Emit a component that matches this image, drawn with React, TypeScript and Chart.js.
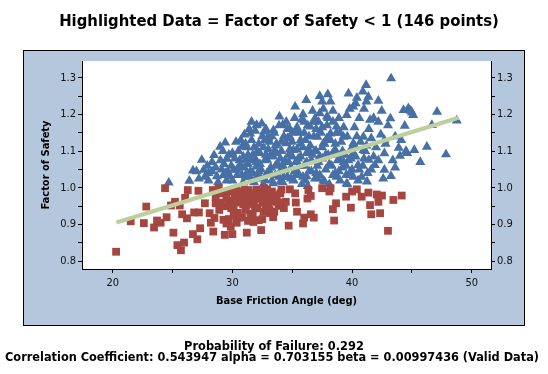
import React, { useEffect, useRef } from "react";
import { Chart, registerables } from "chart.js";

Chart.register(...registerables);

const TITLE = "Highlighted Data = Factor of Safety < 1 (146 points)";
const FOOTER_1 = "Probability of Failure: 0.292";
const FOOTER_2 =
  "Correlation Coefficient: 0.543947 alpha = 0.703155 beta = 0.00997436 (Valid Data)";
const X_TITLE = "Base Friction Angle (deg)";
const Y_TITLE = "Factor of Safety";

const ALPHA = 0.703155;
const BETA = 0.00997436;
const FIT_RANGE = [20.3, 48.9];

const X_MIN = 17.43;
const X_MAX = 51.61;
const Y_MIN = 0.779;
const Y_MAX = 1.3455;

// Factor of Safety >= 1 (angle, FoS)
const SAFE_POINTS: [number, number][] = [
  [24.68, 1.014], [26.4, 1.019], [26.7, 1.047], [27.44, 1.076], [27.6, 1.049], [28.47, 1.089],
  [28.97, 1.112], [29.4, 1.123], [29.53, 1.079], [28.0, 1.04], [28.7, 1.031], [29.25, 1.035],
  [29.8, 1.031], [30.36, 1.049], [30.8, 1.112], [31.14, 1.076], [31.48, 1.148], [31.6, 1.18],
  [32.03, 1.171], [32.45, 1.175], [32.65, 1.153], [33.0, 1.139], [33.43, 1.157], [33.93, 1.194],
  [34.2, 1.171], [35.24, 1.221], [36.17, 1.239], [37.5, 1.235], [37.97, 1.255], [39.7, 1.257],
  [41.17, 1.28], [40.9, 1.262], [41.36, 1.248], [42.2, 1.237], [42.48, 1.21], [43.26, 1.298],
  [43.2, 1.189], [44.3, 1.212], [44.7, 1.217], [45.1, 1.198], [45.2, 1.103], [45.7, 1.07],
  [46.25, 1.112], [46.67, 1.171], [47.1, 1.207], [47.85, 1.091], [48.75, 1.183], [44.4, 1.169],
  [43.9, 1.109], [44.0, 1.087], [43.6, 1.055], [43.25, 1.032], [42.7, 1.049], [42.7, 1.094],
  [41.9, 1.062], [41.4, 1.076], [41.8, 1.085], [40.95, 1.103], [40.1, 1.121], [39.55, 1.198],
  [39.28, 1.139], [40.1, 1.221], [40.3, 1.23], [41.5, 1.185], [42.2, 1.18], [42.7, 1.13],
  [40.95, 1.139], [39.55, 1.012], [40.1, 1.03], [40.5, 1.062], [41.25, 1.017], [38.7, 1.03],
  [39.0, 1.076], [38.6, 1.103], [37.9, 1.194], [38.4, 1.18], [37.3, 1.203], [36.9, 1.189],
  [36.5, 1.167], [35.8, 1.185], [35.4, 1.157], [34.8, 1.139], [37.1, 1.026], [37.7, 1.017],
  [36.2, 1.031], [35.1, 1.021], [34.0, 1.017], [33.4, 1.012], [32.74, 1.021], [31.6, 1.021],
  [31.2, 1.04], [32.0, 1.058], [32.9, 1.076], [33.7, 1.094], [34.5, 1.121], [35.1, 1.103],
  [35.7, 1.13], [36.4, 1.103], [37.1, 1.139], [37.6, 1.121], [38.2, 1.148], [38.7, 1.167],
  [29.1, 1.05], [29.3, 1.065], [29.6, 1.045], [29.9, 1.06], [30.0, 1.02], [30.2, 1.08],
  [30.4, 1.035], [30.5, 1.1], [30.7, 1.06], [30.9, 1.015], [30.9, 1.085], [30.3, 1.125],
  [29.7, 1.09], [28.6, 1.055], [28.3, 1.07], [28.8, 1.015], [27.9, 1.06], [27.2, 1.025],
  [27.0, 1.045], [31.1, 1.03], [31.2, 1.11], [31.3, 1.065], [31.5, 1.045], [31.6, 1.13],
  [31.7, 1.09], [31.8, 1.015], [31.9, 1.155], [32.0, 1.07], [32.1, 1.035], [32.2, 1.12],
  [32.3, 1.095], [32.4, 1.05], [32.5, 1.14], [32.6, 1.01], [32.7, 1.075], [32.8, 1.16],
  [32.9, 1.04], [33.0, 1.105], [33.1, 1.125], [33.2, 1.055], [33.3, 1.02], [33.4, 1.085],
  [33.5, 1.15], [33.6, 1.035], [33.7, 1.12], [33.8, 1.065], [33.9, 1.17], [31.4, 1.16],
  [32.0, 1.17], [31.0, 1.145], [34.0, 1.045], [34.1, 1.1], [34.2, 1.015], [34.3, 1.14],
  [34.4, 1.075], [34.5, 1.18], [34.6, 1.03], [34.7, 1.09], [34.8, 1.16], [34.9, 1.055],
  [35.0, 1.125], [35.1, 1.02], [35.2, 1.19], [35.3, 1.07], [35.4, 1.105], [35.5, 1.04],
  [35.6, 1.15], [35.7, 1.085], [35.8, 1.01], [35.9, 1.2], [36.0, 1.06], [36.1, 1.13],
  [36.2, 1.095], [36.3, 1.17], [36.4, 1.045], [36.5, 1.115], [36.6, 1.075], [36.7, 1.21],
  [36.8, 1.14], [36.9, 1.025], [34.2, 1.06], [35.0, 1.085], [35.7, 1.12], [36.3, 1.005],
  [37.0, 1.1], [37.1, 1.06], [37.2, 1.18], [37.3, 1.035], [37.4, 1.15], [37.5, 1.08],
  [37.6, 1.215], [37.7, 1.12], [37.8, 1.05], [37.9, 1.17], [38.0, 1.09], [38.1, 1.01],
  [38.2, 1.13], [38.3, 1.06], [38.4, 1.21], [38.5, 1.1], [38.6, 1.04], [38.7, 1.15],
  [38.8, 1.075], [38.9, 1.19], [39.0, 1.02], [39.1, 1.125], [39.2, 1.055], [39.3, 1.165],
  [39.4, 1.09], [39.5, 1.035], [39.6, 1.14], [39.7, 1.075], [39.8, 1.215], [39.9, 1.105],
  [37.3, 1.25], [38.2, 1.235], [40.0, 1.05], [40.2, 1.165], [40.3, 1.085], [40.5, 1.02],
  [40.6, 1.19], [40.7, 1.125], [40.9, 1.06], [41.0, 1.215], [41.1, 1.1], [41.3, 1.04],
  [41.4, 1.16], [41.6, 1.135], [41.8, 1.19], [42.0, 1.11], [42.2, 1.075], [42.4, 1.145],
  [41.2, 1.235], [40.4, 1.245], [42.8, 1.12], [43.0, 1.17], [43.4, 1.075], [43.6, 1.14],
  [44.1, 1.13], [44.5, 1.1], [44.9, 1.21], [45.0, 1.205], [42.6, 1.025], [44.6, 1.095],
  [30.1, 1.05], [30.6, 1.075], [31.0, 1.055], [31.3, 1.09], [31.7, 1.04], [32.1, 1.1],
  [32.4, 1.025], [32.8, 1.09], [33.1, 1.045], [33.5, 1.1], [33.9, 1.03], [34.1, 1.125],
  [34.4, 1.05], [34.8, 1.105], [35.2, 1.045], [35.5, 1.08], [35.9, 1.03], [36.2, 1.07],
  [36.6, 1.045], [36.9, 1.1], [37.3, 1.085], [37.6, 1.02], [37.9, 1.135], [38.3, 1.09],
  [38.6, 1.12], [38.9, 1.045], [39.3, 1.07], [39.6, 1.01], [39.9, 1.08], [40.2, 1.115],
  [40.6, 1.05], [41.0, 1.08], [33.0, 1.135], [34.6, 1.135], [36.0, 1.15], [37.5, 1.165],
  [35.4, 1.165], [32.3, 1.065], [31.5, 1.075], [30.8, 1.035], [29.5, 1.02], [28.0, 1.02],
  [36.8, 1.18], [38.0, 1.19], [34.9, 1.025], [33.6, 1.06], [32.6, 1.11], [37.0, 1.04],
  [29.0, 1.075], [29.4, 1.04], [30.0, 1.095], [30.5, 1.055], [31.1, 1.12], [31.4, 1.03],
  [31.9, 1.08], [32.2, 1.045], [32.7, 1.13], [33.2, 1.09], [33.6, 1.115], [34.0, 1.08],
  [34.3, 1.03], [34.7, 1.07], [35.0, 1.15], [35.3, 1.035], [35.6, 1.06], [35.9, 1.11],
  [36.1, 1.02], [36.4, 1.14], [36.7, 1.09], [37.0, 1.16], [37.2, 1.07], [37.5, 1.11],
  [37.8, 1.09], [38.1, 1.065], [38.4, 1.035], [38.7, 1.09], [39.0, 1.15], [39.2, 1.1],
  [39.5, 1.06], [39.8, 1.04], [40.1, 1.095], [40.4, 1.14], [40.8, 1.03], [41.2, 1.115],
  [41.6, 1.05], [36.0, 1.18], [34.6, 1.16], [33.3, 1.14], [30.7, 1.13], [31.8, 1.11],
  [29.2, 1.1], [28.3, 1.045], [27.7, 1.03],
];

// Factor of Safety < 1 (angle, FoS)
const FAIL_POINTS: [number, number][] = [
  [20.28, 0.826], [21.5, 0.909], [22.6, 0.904], [22.8, 0.949], [23.45, 0.892], [23.7, 0.911],
  [24.0, 0.905], [24.37, 0.999], [24.5, 0.92], [24.87, 0.952], [25.07, 0.878], [25.2, 0.962],
  [25.4, 0.844], [25.7, 0.83], [25.96, 0.851], [25.8, 0.928], [25.6, 0.952], [26.2, 0.917],
  [26.27, 0.994], [26.05, 0.973], [26.7, 0.874], [27.07, 0.86], [26.8, 0.933], [27.2, 0.933],
  [27.16, 0.992], [27.3, 0.89], [27.7, 0.958], [28.1, 0.931], [28.2, 0.905], [28.4, 0.881],
  [28.5, 0.918], [28.36, 0.994], [28.6, 0.958], [28.86, 0.999], [29.25, 0.913], [29.36, 0.872],
  [29.5, 0.903], [29.67, 0.96], [30.0, 0.874], [29.86, 0.894], [30.36, 0.905], [30.6, 0.919],
  [30.45, 0.932], [30.1, 0.949], [30.64, 0.96], [30.8, 0.976], [31.2, 0.878], [31.14, 0.953],
  [31.34, 0.994], [31.7, 0.976], [31.76, 0.907], [31.9, 0.944], [32.2, 0.912], [32.4, 0.885],
  [32.5, 0.96], [32.65, 0.999], [32.8, 0.985], [32.87, 0.949], [33.15, 0.931], [33.15, 0.98],
  [33.6, 0.962], [33.85, 0.951], [34.0, 0.985], [34.46, 0.962], [34.7, 0.897], [34.8, 0.996],
  [35.24, 0.985], [35.3, 0.96], [35.4, 0.935], [35.9, 0.903], [36.0, 0.919], [36.27, 0.971],
  [36.35, 0.994], [36.55, 0.978], [36.55, 0.928], [36.8, 0.919], [37.5, 0.999], [38.1, 0.99],
  [38.2, 0.999], [38.4, 0.942], [38.5, 0.911], [38.66, 0.958], [39.5, 0.976], [39.9, 0.946],
  [40.0, 0.99], [40.4, 0.996], [40.8, 0.976], [41.36, 0.987], [41.5, 0.953], [41.6, 0.928],
  [42.06, 0.982], [42.2, 0.962], [42.34, 0.931], [42.5, 0.979], [43.0, 0.883], [43.45, 0.967],
  [44.15, 0.979], [29.2, 0.985], [29.5, 0.972], [29.8, 0.99], [30.0, 0.965], [30.2, 0.98],
  [30.3, 0.995], [30.5, 0.97], [30.7, 0.985], [30.9, 0.955], [31.0, 0.995], [31.1, 0.94],
  [31.2, 0.97], [31.4, 0.96], [31.5, 0.93], [31.6, 0.985], [31.8, 0.955], [31.9, 0.97],
  [32.0, 0.995], [32.1, 0.945], [32.3, 0.975], [32.4, 0.99], [32.6, 0.935], [32.7, 0.965],
  [32.9, 0.995], [33.0, 0.955], [33.2, 0.97], [33.3, 0.99], [33.5, 0.935], [33.7, 0.98],
  [33.9, 0.96], [34.1, 0.995], [34.3, 0.945], [30.4, 0.93], [30.8, 0.92], [31.3, 0.91],
  [29.9, 0.945], [29.4, 0.95], [30.1, 0.925], [31.7, 0.925], [32.5, 0.915], [33.4, 0.92],
  [28.9, 0.94], [28.6, 0.975], [29.0, 0.96], [32.2, 0.985], [33.1, 0.94], [31.0, 0.975],
  [30.6, 0.99], [29.7, 0.915], [32.8, 0.945],
];

const PANEL_BG = "#B5C7DC";
const SAFE_COLOR = "#4670A6";
const FAIL_COLOR = "#A64641";
const FIT_COLOR = "#BDCE9F";
const FONT = "'DejaVu Sans Condensed', 'DejaVu Sans', sans-serif";

const W = 548;
const H = 374;
const PANEL = { left: 23, top: 50, right: 525, bottom: 326 };

function fitText(ctx: CanvasRenderingContext2D, text: string, base: number, target: number) {
  ctx.font = `bold ${base}px ${FONT}`;
  const w = ctx.measureText(text).width;
  const size = (base * target) / w;
  ctx.font = `bold ${size}px ${FONT}`;
}

const framePlugin = {
  id: "frame",
  beforeDraw(chart: any) {
    const { ctx, chartArea } = chart;
    ctx.save();
    ctx.fillStyle = "#ffffff";
    ctx.fillRect(0, 0, W, H);
    ctx.fillStyle = PANEL_BG;
    ctx.fillRect(PANEL.left, PANEL.top, PANEL.right - PANEL.left, PANEL.bottom - PANEL.top);
    ctx.strokeStyle = "#000";
    ctx.lineWidth = 1;
    ctx.strokeRect(
      PANEL.left + 0.5,
      PANEL.top + 0.5,
      PANEL.right - PANEL.left - 1,
      PANEL.bottom - PANEL.top - 1
    );
    ctx.fillStyle = "#ffffff";
    ctx.fillRect(
      chartArea.left,
      chartArea.top,
      chartArea.right - chartArea.left,
      chartArea.bottom - chartArea.top
    );
    ctx.fillStyle = "#000";
    ctx.textAlign = "center";
    ctx.textBaseline = "alphabetic";
    fitText(ctx, TITLE, 15, 440);
    ctx.fillText(TITLE, 279, 26);
    fitText(ctx, FOOTER_1, 11, 180);
    ctx.fillText(FOOTER_1, 274, 350);
    fitText(ctx, FOOTER_2, 11, 534);
    ctx.fillText(FOOTER_2, 272, 361);
    ctx.restore();
  },
};

const yTick = (v: any) => (Math.round(Number(v) * 20) % 2 === 0 ? Number(v).toFixed(1) : "");
const xTick = (v: any) => (Math.round(Number(v)) % 10 === 0 ? String(Math.round(Number(v))) : "");

function axisBase() {
  return {
    grid: {
      display: true,
      drawOnChartArea: false,
      drawTicks: true,
      tickLength: 4,
      color: "#000",
      lineWidth: 1,
    },
    border: { display: true, color: "#000", width: 1 },
  };
}

export default function App() {
  const ref = useRef<HTMLCanvasElement | null>(null);

  useEffect(() => {
    if (!ref.current) return;
    const fit = FIT_RANGE.map((x) => ({ x, y: ALPHA + BETA * x }));
    const chart = new Chart(ref.current, {
      type: "scatter",
      data: {
        datasets: [
          {
            type: "line",
            label: "Regression",
            data: fit,
            borderColor: FIT_COLOR,
            borderWidth: 4,
            pointRadius: 0,
            fill: false,
            order: 0,
          } as any,
          {
            label: "FoS < 1",
            data: FAIL_POINTS.map(([x, y]) => ({ x, y })),
            pointStyle: "rect",
            pointRadius: 5.5,
            backgroundColor: FAIL_COLOR,
            borderWidth: 0,
            order: 1,
          },
          {
            label: "FoS >= 1",
            data: SAFE_POINTS.map(([x, y]) => ({ x, y })),
            pointStyle: "triangle",
            pointRadius: 5.8,
            backgroundColor: SAFE_COLOR,
            borderWidth: 0,
            order: 2,
          },
        ],
      },
      options: {
        responsive: false,
        animation: false,
        events: [],
        layout: { padding: { left: 23, right: 23, top: 61, bottom: 48 } },
        plugins: {
          legend: { display: false },
          title: { display: false },
          tooltip: { enabled: false },
        },
        scales: {
          x: {
            type: "linear",
            position: "bottom",
            min: X_MIN,
            max: X_MAX,
            ...axisBase(),
            ticks: {
              stepSize: 5,
              includeBounds: false,
              autoSkip: false,
              maxRotation: 0,
              padding: 4,
              color: "#111",
              font: { family: FONT, size: 11 },
              callback: xTick,
            },
            title: {
              display: true,
              text: X_TITLE,
              color: "#000",
              font: { family: FONT, size: 11, weight: "bold", lineHeight: 1.2 },
              padding: { top: 0, bottom: 18 },
            },
            afterFit: (s: any) => {
              s.height = 57;
            },
          },
          y: {
            type: "linear",
            position: "left",
            min: Y_MIN,
            max: Y_MAX,
            ...axisBase(),
            ticks: {
              stepSize: 0.05,
              includeBounds: false,
              autoSkip: false,
              padding: 2,
              color: "#111",
              font: { family: FONT, size: 11 },
              callback: yTick,
            },
            title: {
              display: true,
              text: Y_TITLE,
              color: "#000",
              font: { family: FONT, size: 11, weight: "bold", lineHeight: 1.2 },
              padding: { top: 17, bottom: 0 },
            },
            afterFit: (s: any) => {
              s.width = 59;
            },
          },
          y2: {
            type: "linear",
            position: "right",
            min: Y_MIN,
            max: Y_MAX,
            ...axisBase(),
            ticks: {
              stepSize: 0.05,
              includeBounds: false,
              autoSkip: false,
              padding: 2,
              color: "#111",
              font: { family: FONT, size: 11 },
              callback: yTick,
            },
            afterFit: (s: any) => {
              s.width = 34;
            },
          },
        },
      } as any,
      plugins: [framePlugin],
    });
    return () => chart.destroy();
  }, []);

  return (
    <div style={{ position: "absolute", left: 0, top: 0, width: W, height: H }}>
      <canvas ref={ref} width={W} height={H} style={{ width: W, height: H, display: "block" }} />
    </div>
  );
}
